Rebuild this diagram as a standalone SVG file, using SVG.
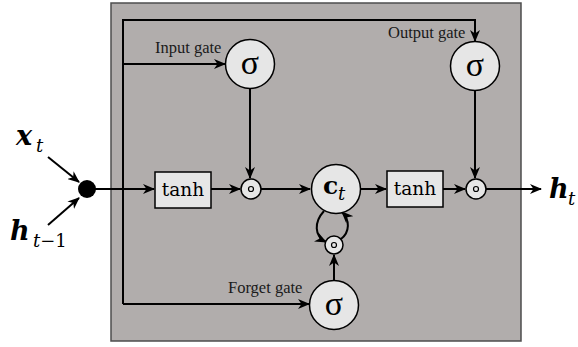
<svg xmlns="http://www.w3.org/2000/svg" width="578" height="347" viewBox="0 0 578 347">
  <style>
    .wire { fill: none; stroke: #000; stroke-width: 2; }
    .node { fill: #e6e6e6; stroke: #000; stroke-width: 1.5; }
    .lbl { font-family: "Liberation Serif", serif; font-size: 16.5px; fill: #1a1a1a; }
    .sig { font-family: "Liberation Serif", serif; font-size: 34px; fill: #000; text-anchor: middle; }
    .fn { font-family: "DejaVu Serif", serif; font-size: 18.5px; fill: #000; text-anchor: middle; }
    .mb { font-family: "DejaVu Serif", serif; font-weight: bold; font-style: italic; font-size: 27px; fill: #000; }
    .mi { font-family: "DejaVu Serif", serif; font-style: italic; font-size: 18px; fill: #000; }
  </style>
  <defs>
    <marker id="arr" viewBox="0 0 12 10" refX="11" refY="5" markerWidth="12" markerHeight="10" markerUnits="userSpaceOnUse" orient="auto">
      <path d="M0,0 L12,5 L0,10 L3.5,5 Z" fill="#000"/>
    </marker>
  </defs>

  <!-- cell body -->
  <rect id="cell" x="111" y="3" width="410" height="338" fill="#b1adac" stroke="#4d4d4d" stroke-width="1.5"/>

  <!-- connectors -->
  <g id="connectors">
    <line class="wire" x1="48" y1="157" x2="79" y2="182" marker-end="url(#arr)"/>
    <line class="wire" x1="48" y1="225" x2="79" y2="198" marker-end="url(#arr)"/>
    <polyline class="wire" points="123,304 123,20 475,20 475,41" marker-end="url(#arr)"/>
    <line class="wire" x1="123" y1="64" x2="225" y2="64" marker-end="url(#arr)"/>
    <line class="wire" x1="123" y1="304" x2="309" y2="304" marker-end="url(#arr)"/>
    <line class="wire" x1="87" y1="189" x2="154" y2="189" marker-end="url(#arr)"/>
    <line class="wire" x1="211" y1="189" x2="240" y2="189" marker-end="url(#arr)"/>
    <line class="wire" x1="261" y1="189" x2="310" y2="189" marker-end="url(#arr)"/>
    <line class="wire" x1="361" y1="189" x2="386" y2="189" marker-end="url(#arr)"/>
    <line class="wire" x1="443" y1="189" x2="465" y2="189" marker-end="url(#arr)"/>
    <line class="wire" x1="486" y1="189" x2="541" y2="189" marker-end="url(#arr)"/>
    <line class="wire" x1="250" y1="89" x2="250" y2="178" marker-end="url(#arr)"/>
    <line class="wire" x1="475" y1="90" x2="475" y2="178" marker-end="url(#arr)"/>
    <line class="wire" x1="334" y1="281" x2="334" y2="255" marker-end="url(#arr)"/>
    <path class="wire" d="M324,211 C314,222 314,236 326,242" marker-end="url(#arr)"/>
    <path class="wire" d="M341,239 C350,232 350,220 342,212" marker-end="url(#arr)"/>
  </g>

  <!-- inputs -->
  <g id="junction">
    <circle cx="87" cy="189" r="9" fill="#000"/>
  </g>
  <g id="input-x">
    <text class="mb" x="16" y="145">x</text>
    <text class="mi" x="36" y="152">t</text>
  </g>
  <g id="input-h">
    <text class="mb" x="10" y="240">h</text>
    <text class="mi" x="33" y="247">t<tspan font-style="normal">−1</tspan></text>
  </g>

  <!-- gates -->
  <g id="input-gate">
    <circle class="node" cx="250" cy="64" r="24.5"/>
    <text class="sig" x="250" y="74">σ</text>
    <text class="lbl" x="155" y="53">Input gate</text>
  </g>
  <g id="output-gate">
    <circle class="node" cx="475" cy="66" r="24.5"/>
    <text class="sig" x="475" y="76">σ</text>
    <text class="lbl" x="388" y="38">Output gate</text>
  </g>
  <g id="forget-gate">
    <circle class="node" cx="334" cy="305" r="24.5"/>
    <text class="sig" x="334" y="315">σ</text>
    <text class="lbl" x="228" y="293">Forget gate</text>
  </g>

  <!-- activations -->
  <g id="tanh-in">
    <rect class="node" x="155" y="172" width="56" height="36"/>
    <text class="fn" x="183" y="196">tanh</text>
  </g>
  <g id="tanh-out">
    <rect class="node" x="387" y="171" width="56" height="36"/>
    <text class="fn" x="415" y="195">tanh</text>
  </g>

  <!-- element-wise products -->
  <g id="mul-in">
    <circle class="node" cx="251" cy="189" r="10"/>
    <circle cx="251" cy="189" r="2.5" fill="none" stroke="#000" stroke-width="1.2"/>
  </g>
  <g id="mul-forget">
    <circle class="node" cx="334" cy="245" r="9"/>
    <circle cx="334" cy="245" r="2.5" fill="none" stroke="#000" stroke-width="1.2"/>
  </g>
  <g id="mul-out">
    <circle class="node" cx="476" cy="189" r="10"/>
    <circle cx="476" cy="189" r="2.5" fill="none" stroke="#000" stroke-width="1.2"/>
  </g>

  <!-- cell state -->
  <g id="cell-state">
    <circle class="node" cx="336" cy="189" r="24.5"/>
    <text x="323" y="194" font-family="DejaVu Serif, serif" font-weight="bold" font-size="25">c</text>
    <text class="mi" x="338" y="200" font-size="19">t</text>
  </g>

  <!-- output -->
  <g id="output-h">
    <text class="mb" x="549" y="198">h</text>
    <text class="mi" x="568" y="205">t</text>
  </g>
</svg>
